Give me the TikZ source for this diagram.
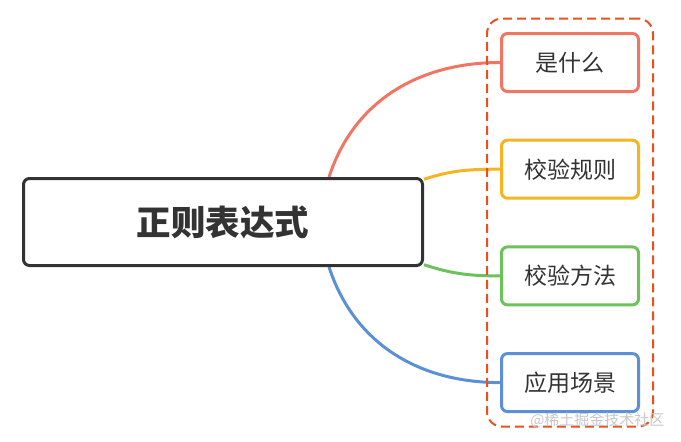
\documentclass[tikz,border=0pt]{standalone}
\usepackage{fontspec}
\setmainfont{Noto Sans CJK SC}
\usetikzlibrary{positioning,fit,backgrounds}

\definecolor{ink}{HTML}{333333}
\definecolor{cred}{HTML}{F07563}
\definecolor{cyellow}{HTML}{F5B521}
\definecolor{cgreen}{HTML}{6CC15B}
\definecolor{cblue}{HTML}{5B8FD6}
\definecolor{cframe}{HTML}{E8501E}

\tikzset{
  basic/.style  = {draw, rectangle, rounded corners=6pt, line width=3pt, fill=white, text=ink},
  root/.style   = {basic, draw=ink, minimum width=399pt, minimum height=87pt, font=\fontsize{34.5}{34.5}\selectfont\bfseries},
  level 2/.style = {basic, minimum width=137pt, minimum height=58pt, font=\fontsize{23}{23}\selectfont},
  link/.style   = {line width=3pt}
}

\begin{document}
\begin{tikzpicture}[x=1pt, y=-1pt, node distance=106.7pt]
\useasboundingbox (0,0) rectangle (681,442);

\node[root] (re) at (223,222) {正则表达式};

% the four topics on the right
\begin{scope}[every node/.style={level 2}]
\node[draw=cred]    (re1) at (570,62.5) {是什么};
\node[draw=cyellow, below of = re1] (re2) {校验规则};
\node[draw=cgreen,  below of = re2] (re3) {校验方法};
\node[draw=cblue,   below of = re3] (re4) {应用场景};
\end{scope}

\node[draw=cframe, dashed, dash pattern=on 9pt off 5pt, line width=2pt, rounded corners=15pt,
      inner xsep=13pt, inner ysep=13.5pt, fit=(re1)(re4)] (frame) {};

\node[text=black!22, font=\fontsize{15}{15}\selectfont, anchor=east] (mark) at (668,420) {@稀土掘金技术社区};

\begin{pgfonlayer}{background}
\foreach \i/\c/\a/\o in {1/cred/23.4/72, 2/cyellow/12/18, 3/cgreen/-12/-18, 4/cblue/-23.4/-72}
  \draw[link, \c] (re.\a) to[out=\o, in=180] (re\i.west);
\end{pgfonlayer}

\end{tikzpicture}
\end{document}
